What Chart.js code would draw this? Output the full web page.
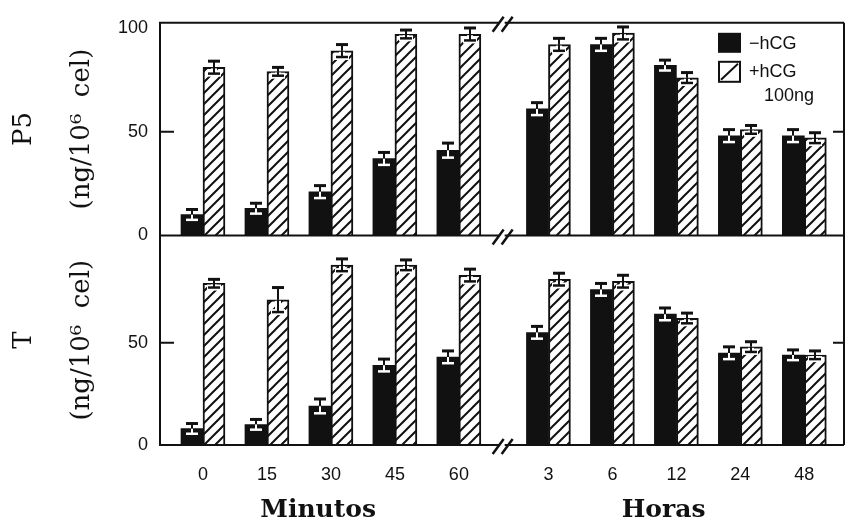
<!DOCTYPE html>
<html>
<head>
<meta charset="utf-8">
<script src="https://cdn.jsdelivr.net/npm/chart.js@4.4.1/dist/chart.umd.min.js"></script>
<style>
  html, body { margin: 0; padding: 0; background: #fff; }
  #c { display: block; }
</style>
</head>
<body>
<canvas id="c" width="846" height="525"></canvas>
<script>
// Sampling times: the first five are minutes, the rest hours
const timeLabels = ['0', '15', '30', '45', '60', '3', '6', '12', '24', '48'];
const unitLabels = ['Minutos', 'Horas'];
const minuteCount = 5;

// P5 (ng/10^6 cel)
const p5Control    = [10, 13, 21, 37, 41, 61, 92, 82, 48, 48];
const p5ControlErr = [2.5, 2.5, 3, 3, 3.5, 3, 3, 2.5, 3, 3];
const p5Hcg        = [81, 79, 89, 97, 97, 92, 97.5, 76, 51, 47];
const p5HcgErr     = [3, 2, 3, 2, 3, 3, 3, 2.5, 2, 2.5];

// T (ng/10^6 cel)
const tControl    = [8, 10, 19, 39, 43, 55, 76, 64, 45, 44];
const tControlErr = [2.5, 2.5, 3.5, 3, 3, 3, 3, 3, 3, 2.5];
const tHcg        = [79, 71, 88, 88, 83, 81, 80, 62, 48, 44];
const tHcgErr     = [2, 6, 3, 2.5, 3, 3, 3, 2.5, 2.5, 2];

const p5Ticks = [0, 50, 100];
const tTicks = [0, 50];

const seriesLabels = ['\u2212hCG', '+hCG\n100ng'];

// ---- layout helpers -------------------------------------------------------
const BREAK_GAP = 0.4;                 // extra room at the minutes/hours break
const xPos = timeLabels.map((_, i) => i + (i >= minuteCount ? BREAK_GAP : 0));
const mean = a => a.reduce((s, v) => s + v, 0) / a.length;
const unitCenters = [mean(xPos.slice(0, minuteCount)) - 0.2, mean(xPos.slice(minuteCount)) - 0.2];
const breakAt = (xPos[minuteCount - 1] + xPos[minuteCount]) / 2;
const X_MIN = -0.672, X_MAX = 10.02;
const INK = '#111';

const ctx = document.getElementById('c').getContext('2d');

function makeHatch() {
  const s = 11;
  const c = document.createElement('canvas');
  c.width = s; c.height = s;
  const g = c.getContext('2d');
  g.fillStyle = '#fff';
  g.fillRect(0, 0, s, s);
  g.strokeStyle = INK;
  g.lineWidth = 2;
  g.beginPath();
  g.moveTo(-2, s + 2); g.lineTo(s + 2, -2);
  g.moveTo(-2, 2); g.lineTo(2, -2);
  g.moveTo(s - 2, s + 2); g.lineTo(s + 2, s - 2);
  g.stroke();
  return ctx.createPattern(c, 'repeat');
}
const hatch = makeHatch();

const pts = vals => vals.map((v, i) => ({ x: xPos[i], y: v }));

const solid = { backgroundColor: INK, borderWidth: 0, stack: 'ctrl' };
const striped = { backgroundColor: hatch, borderColor: INK, borderWidth: 2, stack: 'hcg' };

// error bars: dark whisker above the bar, the lower half inside the bar
const errorBars = {
  id: 'errorBars',
  afterDatasetsDraw(chart) {
    const c = chart.ctx;
    c.save();
    chart.data.datasets.forEach((ds, di) => {
      const meta = chart.getDatasetMeta(di);
      const ys = chart.scales[ds.yAxisID];
      const darkBar = ds.stack === 'ctrl';
      meta.data.forEach((bar, i) => {
        const v = ds.data[i].y, e = ds.errors[i];
        const x = Math.round(bar.x);
        const yv = bar.y;
        const yHi = ys.getPixelForValue(v + e);
        const yLo = ys.getPixelForValue(v - e);
        const half = 6;
        c.strokeStyle = INK;
        c.lineWidth = 2;
        c.beginPath(); c.moveTo(x, yv); c.lineTo(x, yHi); c.stroke();
        c.lineWidth = 3;
        c.beginPath(); c.moveTo(x - half, yHi); c.lineTo(x + half, yHi); c.stroke();
        if (darkBar) {
          c.strokeStyle = '#fff';
        } else {
          c.strokeStyle = '#fff';
          c.lineWidth = 6;
          c.beginPath(); c.moveTo(x, yv + 1); c.lineTo(x, yLo); c.stroke();
          c.beginPath(); c.moveTo(x - half - 1, yLo); c.lineTo(x + half + 1, yLo); c.stroke();
          c.strokeStyle = INK;
        }
        c.lineWidth = 2;
        c.beginPath(); c.moveTo(x, yv); c.lineTo(x, yLo); c.stroke();
        c.lineWidth = 2.5;
        c.beginPath(); c.moveTo(x - half, yLo); c.lineTo(x + half, yLo); c.stroke();
      });
    });
    c.restore();
  }
};

// panel frame, inward ticks, axis breaks and legend
const frame = {
  id: 'frame',
  afterDraw(chart) {
    const c = chart.ctx;
    const a = chart.chartArea;
    const yTop = chart.scales.yP5, yBot = chart.scales.yT;
    const xs = chart.scales.x;
    const mid = Math.min(yTop.bottom, yBot.bottom);
    const lines = [a.top, mid, a.bottom];
    c.save();
    c.strokeStyle = INK;
    c.lineWidth = 2;
    c.lineCap = 'butt';
    c.beginPath();
    lines.forEach(y => { c.moveTo(a.left - 1, y); c.lineTo(a.right, y); });
    c.moveTo(a.left, a.top); c.lineTo(a.left, a.bottom);
    c.moveTo(a.right, a.top); c.lineTo(a.right, a.bottom);
    c.stroke();

    [yTop, yBot].forEach(s => {
      s.ticks.forEach(t => {
        if (t.value <= s.min || t.value >= s.max - 3) return;
        const y = s.getPixelForValue(t.value);
        c.beginPath();
        c.moveTo(a.left, y); c.lineTo(a.left + 14, y);
        c.moveTo(a.right - 11, y); c.lineTo(a.right, y);
        c.stroke();
      });
    });

    const bx = xs.getPixelForValue(breakAt);
    lines.forEach(y => {
      c.fillStyle = '#fff';
      c.fillRect(bx - 5, y - 2, 6, 4);
      c.lineWidth = 2.5;
      c.beginPath();
      c.moveTo(bx - 11, y + 9); c.lineTo(bx, y - 6);
      c.moveTo(bx - 2, y + 9); c.lineTo(bx + 9, y - 6);
      c.stroke();
    });

    const lx = a.right - 126, ly = a.top + 10;
    c.font = '18px "Liberation Sans", Arial, sans-serif';
    c.textBaseline = 'middle';
    c.textAlign = 'left';
    c.fillStyle = INK;
    c.fillRect(lx, ly, 23, 20);
    c.fillText(seriesLabels[0], lx + 31, ly + 11);
    const hy = ly + 28;
    c.fillStyle = '#fff';
    c.fillRect(lx, hy, 23, 22);
    c.lineWidth = 2;
    c.strokeRect(lx + 1, hy + 1, 21, 20);
    c.beginPath();
    c.moveTo(lx + 3, hy + 19); c.lineTo(lx + 20, hy + 3);
    c.stroke();
    c.fillStyle = INK;
    const second = seriesLabels[1].split('\n');
    c.fillText(second[0], lx + 31, hy + 11);
    c.fillText(second[1], lx + 46, hy + 35);
    c.restore();
  }
};

const tickFont = { family: '"Liberation Sans", Arial, sans-serif', size: 18 };
const titleFont = { family: '"DejaVu Serif", serif', size: 26, lineHeight: 2.2 };

function yScale(ticks, weight, title) {
  return {
    type: 'linear', position: 'left', stack: 'panels', stackWeight: weight,
    min: 0, max: 102.5, stacked: false,
    afterBuildTicks: s => { s.ticks = ticks.map(v => ({ value: v })); },
    grid: { display: false, drawTicks: false },
    border: { display: false },
    ticks: { padding: 12, font: tickFont, color: INK },
    title: { display: true, text: title, font: titleFont, color: INK, padding: { top: -4, bottom: 0 } },
    afterFit: s => { s.width = 160; }
  };
}

new Chart(ctx, {
  type: 'bar',
  data: {
    datasets: [
      Object.assign({ label: seriesLabels[0], data: pts(p5Control), errors: p5ControlErr, yAxisID: 'yP5' }, solid),
      Object.assign({ label: seriesLabels[1], data: pts(p5Hcg), errors: p5HcgErr, yAxisID: 'yP5' }, striped),
      Object.assign({ label: seriesLabels[0], data: pts(tControl), errors: tControlErr, yAxisID: 'yT' }, solid),
      Object.assign({ label: seriesLabels[1], data: pts(tHcg), errors: tHcgErr, yAxisID: 'yT' }, striped)
    ]
  },
  options: {
    responsive: false,
    animation: false,
    devicePixelRatio: 1,
    layout: { padding: { top: 22, right: 2, left: 0, bottom: 0 } },
    plugins: { legend: { display: false }, tooltip: { enabled: false } },
    datasets: { bar: { barThickness: 22, borderSkipped: 'start' } },
    scales: {
      x: {
        type: 'linear', position: 'bottom', min: X_MIN, max: X_MAX, offset: false,
        afterBuildTicks: s => { s.ticks = xPos.map(v => ({ value: v })); },
        grid: { display: false, drawTicks: false, offset: false },
        border: { display: false },
        ticks: { callback: (v, i) => timeLabels[i], padding: 19, font: tickFont, color: INK, autoSkip: false, maxRotation: 0 },
        afterFit: s => { s.height = 50; }
      },
      xUnits: {
        type: 'linear', position: 'bottom', min: X_MIN, max: X_MAX, offset: false,
        afterBuildTicks: s => { s.ticks = unitCenters.map(v => ({ value: v })); },
        grid: { display: false, drawTicks: false, offset: false },
        border: { display: false },
        ticks: { callback: (v, i) => unitLabels[i], padding: 0, color: INK, autoSkip: false, maxRotation: 0,
                 font: { family: '"DejaVu Serif", serif', size: 25, weight: 'bold' } },
        afterFit: s => { s.height = 30; }
      },
      // stacked panels: the later entry is laid out on top
      yT: yScale(tTicks, 210, ['T', '(ng/10\u2076  cel)']),
      yP5: yScale(p5Ticks, 213, ['P5', '(ng/10\u2076  cel)'])
    }
  },
  plugins: [errorBars, frame]
});
</script>
</body>
</html>
